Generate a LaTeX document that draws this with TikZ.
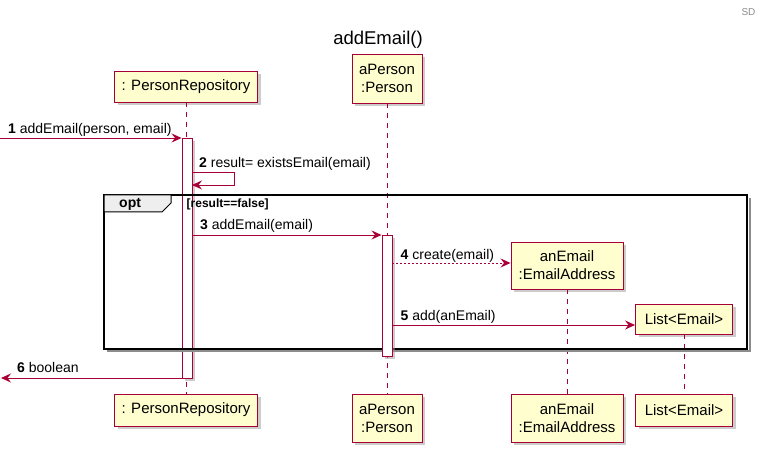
\documentclass[tikz,border=0pt]{standalone}
\usepackage{fontspec}
\setmainfont{Liberation Sans}
\usetikzlibrary{arrows.meta,shadows}
\definecolor{pu}{HTML}{A80036}
\definecolor{pf}{HTML}{FEFECE}
\definecolor{tabgray}{HTML}{EEEEEE}
\tikzset{
  part/.style={draw=pu, fill=pf, line width=0.9pt, align=center, inner sep=0pt,
    font=\fontsize{15}{18}\selectfont,
    drop shadow={shadow xshift=3pt, shadow yshift=-3pt, fill=black!40, opacity=0.5}},
  life/.style={draw=pu, line width=0.7pt, dash pattern=on 5pt off 5pt},
  actbox/.style={draw=pu, fill=white, line width=0.9pt,
    drop shadow={shadow xshift=3pt, shadow yshift=-3pt, fill=black!40, opacity=0.5}},
  msg/.style={draw=pu, line width=0.9pt, -{Stealth[length=10pt,width=9pt,inset=3.5pt]}},
  lbl/.style={anchor=base west, inner sep=0pt, font=\fontsize{14}{16}\selectfont},
}
\begin{document}
\begin{tikzpicture}[x=1pt,y=-1pt]
\useasboundingbox (0,0) rectangle (761,454);
% header
\node[anchor=base, inner sep=0pt, text=black!45, font=\fontsize{10}{12}\selectfont] (sd) at (748.5,16) {SD};
\node[anchor=base, inner sep=0pt, font=\fontsize{18.5}{22}\selectfont] (title) at (378,44.3) {addEmail()};
% participants top
\node[part, minimum width=143pt, minimum height=31pt] (prT) at (186,86.5) {: PersonRepository};
\node[part, minimum width=70pt, minimum height=49pt] (apT) at (387,78.5) {aPerson\\:Person};
\node[part, minimum width=112pt, minimum height=47pt] (aeT) at (567,265.5) {anEmail\\:EmailAddress};
\node[part, minimum width=97pt, minimum height=30pt] (liT) at (684,319) {List<Email>};
% participants bottom
\node[part, minimum width=143pt, minimum height=32pt] (prB) at (186,410) {: PersonRepository};
\node[part, minimum width=70pt, minimum height=48pt] (apB) at (387,418) {aPerson\\:Person};
\node[part, minimum width=112pt, minimum height=48pt] (aeB) at (567,418) {anEmail\\:EmailAddress};
\node[part, minimum width=97pt, minimum height=32pt] (liB) at (684,410) {List<Email>};
% lifelines
\draw[life] (prT.south) -- (prB.north);
\draw[life] (apT.south) -- (apB.north);
\draw[life] (aeT.south) -- (aeB.north);
\draw[life] (liT.south) -- (liB.north);
% activations
\node[actbox, minimum width=10pt, minimum height=240pt, inner sep=0pt, anchor=north] (actPR) at (187,138) {};
% opt frame
\draw[black!45, line width=2pt] (107,351.5) -- (749.5,351.5) -- (749.5,198);
\draw[black, line width=1.6pt] (104,195) rectangle (747,349);
\draw[black, line width=1pt, fill=tabgray] (104,195) -- (171,195) -- (171,203) -- (162,212) -- (104,212) -- cycle;
\node[anchor=base west, inner sep=0pt, font=\bfseries\fontsize{14}{16}\selectfont] (opt) at (119,208) {opt};
\node[anchor=base west, inner sep=0pt, font=\bfseries\fontsize{12}{14}\selectfont] (guard) at (186.5,208) {[result==false]};
\node[actbox, minimum width=10pt, minimum height=121pt, inner sep=0pt, anchor=north] (actAP) at (387,235) {};
% messages
\coordinate (m1s) at (0,138);
\draw[msg] (m1s) -- (m1s -| actPR.west);
\node[lbl] (l1) at (8,133.5) {\textbf{1} addEmail(person, email)};
\coordinate (m2a) at (192,172);
\coordinate (m2b) at (234,172);
\coordinate (m2c) at (234,185);
\coordinate (m2d) at (192,185);
\draw[msg] (m2a) -- (m2b) -- (m2c) -- (m2d);
\node[lbl] (l2) at (199,167.5) {\textbf{2} result= existsEmail(email)};
\coordinate (m3) at (192,235);
\draw[msg] (m3) -- (m3 -| actAP.west);
\node[lbl] (l3) at (200,230) {\textbf{3} addEmail(email)};
\coordinate (m4) at (392,263);
\draw[msg, dash pattern=on 2pt off 2pt] (m4) -- (m4 -| aeT.west);
\node[lbl] (l4) at (400.5,259.3) {\textbf{4} create(email)};
\coordinate (m5) at (392,325);
\draw[msg] (m5) -- (m5 -| liT.west);
\node[lbl] (l5) at (400.5,320.7) {\textbf{5} add(anEmail)};
\coordinate (m6) at (1,378);
\draw[msg] (m6 -| actPR.west) -- (m6);
\node[lbl] (l6) at (17,373) {\textbf{6} boolean};
\end{tikzpicture}
\end{document}
